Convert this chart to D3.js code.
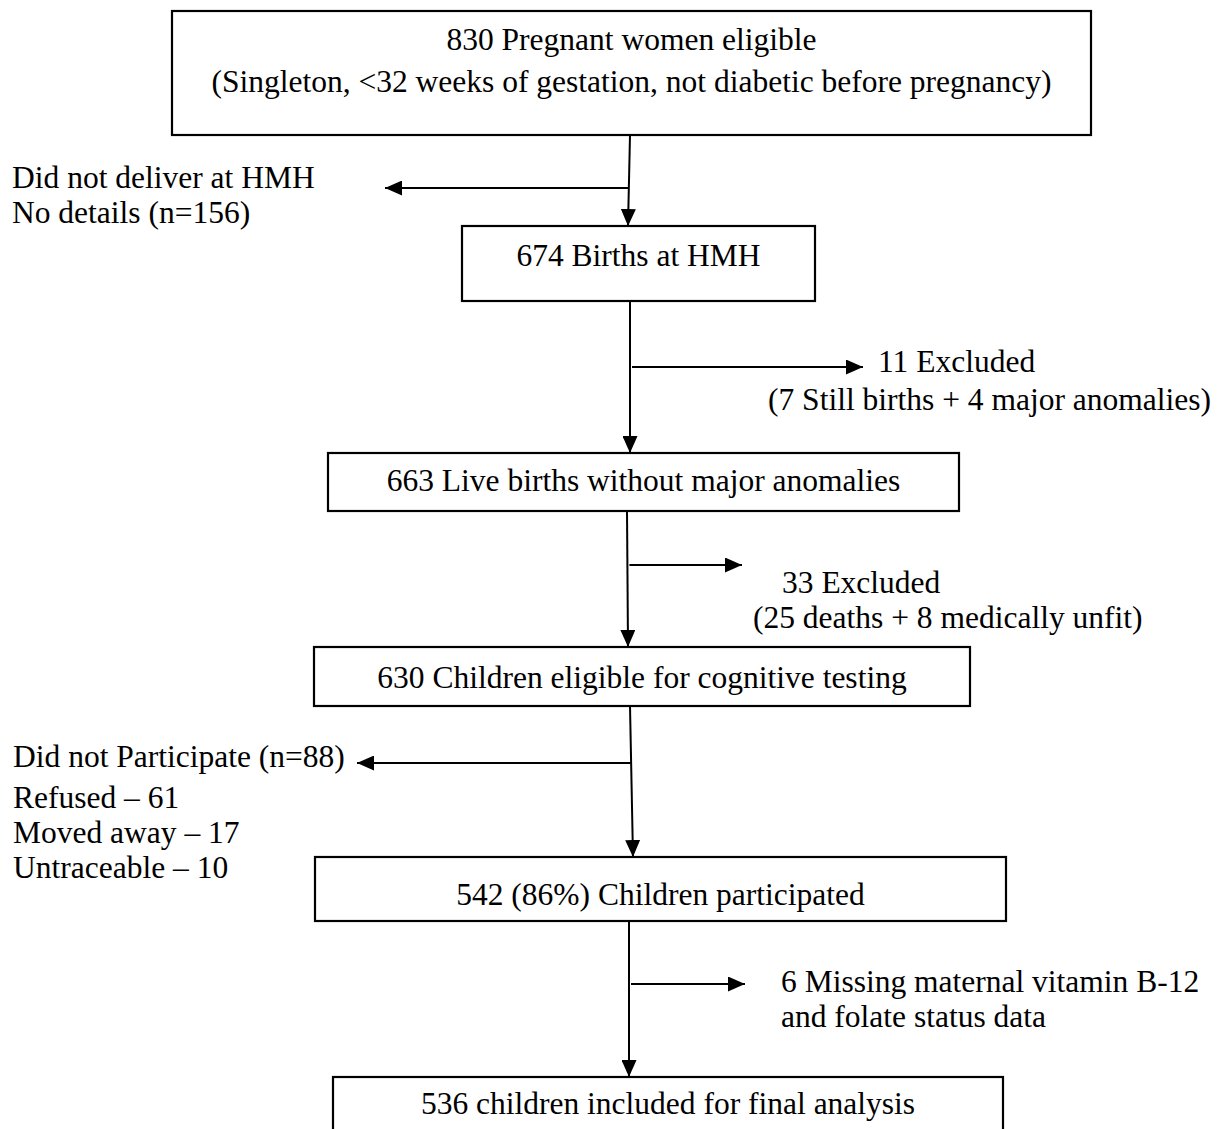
<!DOCTYPE html>
<html>
<head>
<meta charset="utf-8">
<script src="https://cdn.jsdelivr.net/npm/d3@7"></script>
<style>
  html, body { margin: 0; padding: 0; background: #fff; }
  text { font-family: "Liberation Serif", "Times New Roman", serif; fill: #000; }
</style>
</head>
<body>
<div id="chart"></div>
<script>
// Flowchart content
const stepCounts = [830, 674, 663, 630, 542, 536];
const stepLabels = [
  ["830 Pregnant women eligible", "(Singleton, <32 weeks of gestation, not diabetic before pregnancy)"],
  ["674 Births at HMH"],
  ["663 Live births without major anomalies"],
  ["630 Children eligible for cognitive testing"],
  ["542 (86%) Children participated"],
  ["536 children included for final analysis"]
];
const exitSide = ["left", "right", "right", "left", "right"];
const exitLabels = [
  ["Did not deliver at HMH", "No details (n=156)"],
  ["11 Excluded", "(7 Still births + 4 major anomalies)"],
  ["33 Excluded", "(25 deaths + 8 medically unfit)"],
  ["Did not Participate (n=88)", "Refused \u2013 61", "Moved away \u2013 17", "Untraceable \u2013 10"],
  ["6 Missing maternal vitamin B-12", "and folate status data"]
];

// Layout (page pixels)
const boxLeft   = [172, 462, 328, 314, 315, 333];
const boxRight  = [1091, 815, 959, 970, 1006, 1003];
const boxTop    = [11, 226, 453, 647, 857, 1077];
const boxBottom = [135, 301, 511, 706, 921, 1145];
const boxBase   = [[50, 92], [266], [491], [688], [905], [1114]];
const stemTopX  = [630, 630, 627, 630, 629];
const stemBotX  = [628, 630, 628, 633, 629];
const branchY   = [188, 367, 565, 763, 984];
const branchEnd = [385, 863, 742, 357, 745];
const exitX     = [12, 878, 782, 13, 781];
const exitX2    = [12, 768, 753, 13, 781];
const exitBase  = [[188, 223], [372, 410], [593, 628], [767, 808, 843, 878], [992, 1027]];

const width = 1222, height = 1129;
const fontSize = 31.5;

const svg = d3.select("#chart")
    .append("svg")
    .attr("width", width)
    .attr("height", height);

svg.append("rect").attr("width", width).attr("height", height).attr("fill", "#fff");

// arrow head
svg.append("defs").append("marker")
    .attr("id", "head")
    .attr("viewBox", "0 0 17 15")
    .attr("refX", 17).attr("refY", 7.5)
    .attr("markerWidth", 17).attr("markerHeight", 15)
    .attr("markerUnits", "userSpaceOnUse")
    .attr("orient", "auto")
  .append("path")
    .attr("d", "M0,0 L17,7.5 L0,15 Z")
    .attr("fill", "#000");

// boxes
const steps = stepCounts.map((c, i) => ({
  count: c, lines: stepLabels[i],
  x0: boxLeft[i], x1: boxRight[i], y0: boxTop[i], y1: boxBottom[i], base: boxBase[i]
}));

const box = svg.append("g").selectAll("g")
    .data(steps)
    .enter()
    .append("g");

box.append("rect")
    .attr("x", d => d.x0)
    .attr("y", d => d.y0)
    .attr("width", d => d.x1 - d.x0)
    .attr("height", d => d.y1 - d.y0)
    .attr("fill", "#fff")
    .attr("stroke", "#000")
    .attr("stroke-width", 2.2);

box.selectAll("text")
    .data(d => d.lines.map((t, j) => ({ t, x: (d.x0 + d.x1) / 2, y: d.base[j] })))
    .enter()
    .append("text")
    .attr("x", d => d.x)
    .attr("y", d => d.y)
    .attr("text-anchor", "middle")
    .attr("font-size", fontSize)
    .text(d => d.t);

// stems between boxes
const links = d3.range(steps.length - 1).map(i => ({
  i,
  xa: stemTopX[i], ya: steps[i].y1,
  xb: stemBotX[i], yb: steps[i + 1].y0,
  by: branchY[i], be: branchEnd[i], side: exitSide[i]
}));

svg.append("g").selectAll("line")
    .data(links)
    .enter()
    .append("line")
    .attr("x1", d => d.xa).attr("y1", d => d.ya)
    .attr("x2", d => d.xb).attr("y2", d => d.yb)
    .attr("stroke", "#000")
    .attr("stroke-width", 2)
    .attr("marker-end", "url(#head)");

// side branches
const stemX = (d, y) => d.xa + (d.xb - d.xa) * (y - d.ya) / (d.yb - d.ya);
svg.append("g").selectAll("line")
    .data(links)
    .enter()
    .append("line")
    .attr("x1", d => stemX(d, d.by) + (d.side === "right" ? 2 : 0))
    .attr("y1", d => d.by)
    .attr("x2", d => d.be)
    .attr("y2", d => d.by)
    .attr("stroke", "#000")
    .attr("stroke-width", 2)
    .attr("marker-end", "url(#head)");

// side labels
svg.append("g").selectAll("g")
    .data(links)
    .enter()
    .append("g")
    .selectAll("text")
    .data(d => exitLabels[d.i].map((t, j) => ({
      t, x: j === 0 ? exitX[d.i] : exitX2[d.i], y: exitBase[d.i][j]
    })))
    .enter()
    .append("text")
    .attr("x", d => d.x)
    .attr("y", d => d.y)
    .attr("font-size", fontSize)
    .text(d => d.t);
</script>
</body>
</html>
